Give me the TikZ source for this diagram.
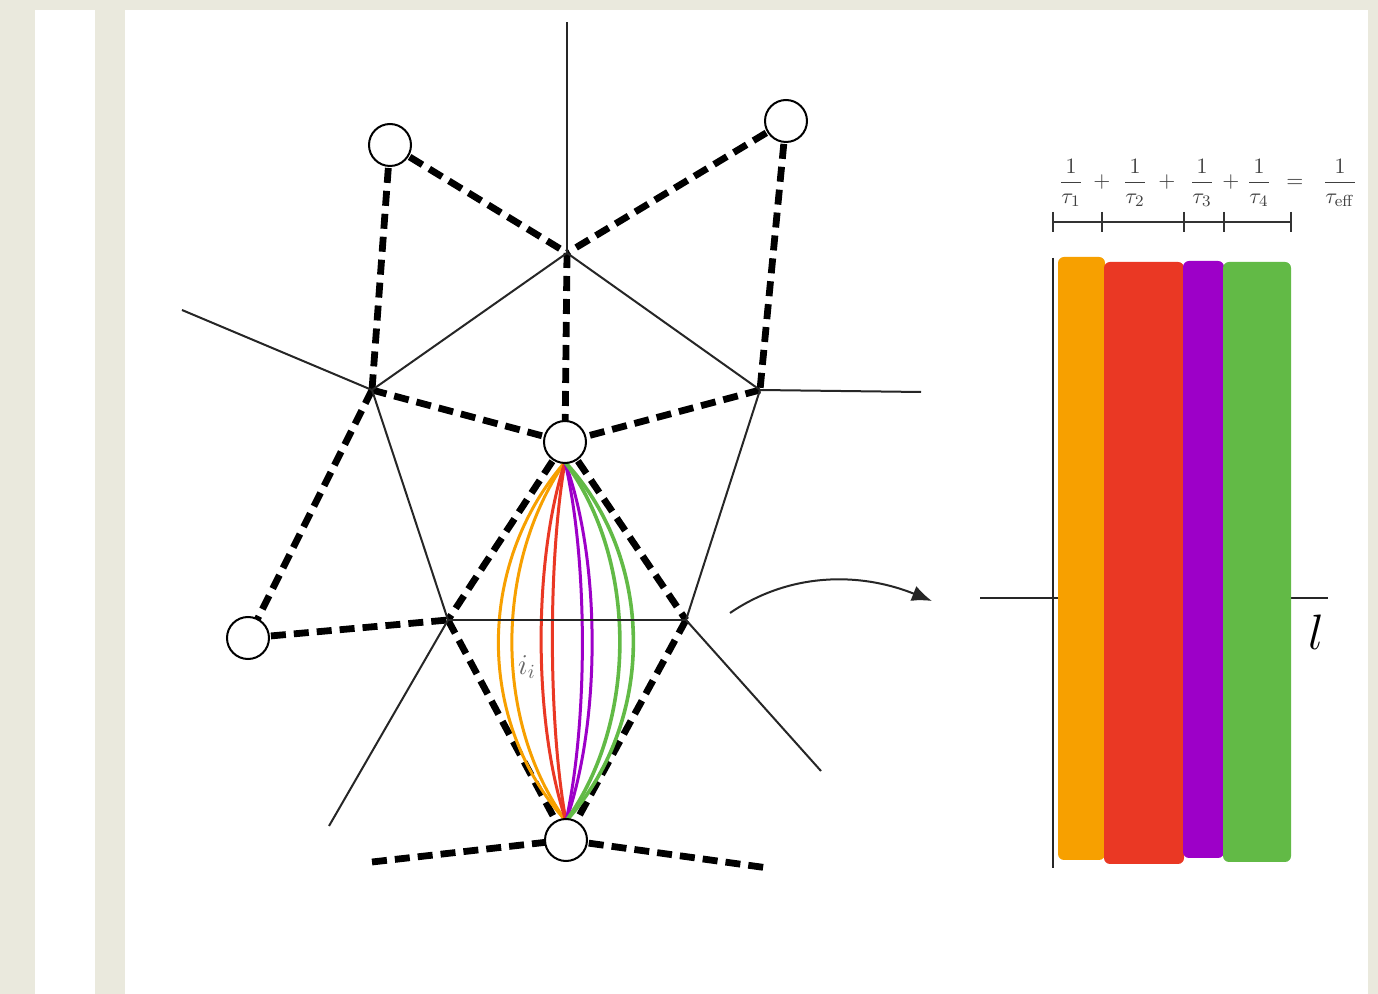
\documentclass[tikz,border=0pt]{standalone}
\usetikzlibrary{arrows.meta}
\definecolor{bg}{RGB}{234,233,221}
\definecolor{myorange}{RGB}{247,160,0}
\definecolor{myred}{RGB}{234,56,36}
\definecolor{mypurple}{RGB}{157,0,200}
\definecolor{mygreen}{RGB}{98,186,70}
\begin{document}
\begin{tikzpicture}[x=0.5pt,y=-0.5pt,
  site/.style={circle,draw,line width=1pt,fill=white,minimum size=21pt,inner sep=0pt},
  vor/.style={line width=1pt,black!85},
  del/.style={line width=3.4pt,dash pattern=on 7.5pt off 4pt},
  curve/.style={line width=1.5pt},
  tick/.style={line width=1pt,black!80},
  bar/.style={rounded corners=3pt},
  eq/.style={anchor=base,inner sep=0pt,text=black!75,font=\fontsize{11}{13}\selectfont}]
\useasboundingbox (0,0) rectangle (1378,994);
% background
\fill[bg] (0,0) rectangle (1378,994);
\fill[white] (35,10) rectangle (95,994);
\fill[white] (125,10) rectangle (1368,994);
% sites and vertices
\coordinate (c1) at (390,145);
\coordinate (c2) at (786,121);
\coordinate (c3) at (565,442);
\coordinate (c4) at (248,638);
\coordinate (c5) at (566,840);
\coordinate (A) at (567,253);
\coordinate (B) at (372,390);
\coordinate (D) at (760,390);
\coordinate (E) at (448,620);
\coordinate (F) at (686,620);
\coordinate (Atop) at (567,22);
\coordinate (Bout) at (182,310);
\coordinate (Dout) at (921,392);
\coordinate (Eout) at (329,826);
\coordinate (Fout) at (821,771);
\coordinate (L5) at (372,862);
\coordinate (R5) at (768,868);
% dashed (Delaunay) edges
\draw[del] (c1) -- (A);
\draw[del] (c2) -- (A);
\draw[del] (c1) -- (B);
\draw[del] (c2) -- (D);
\draw[del] (A) -- (c3);
\draw[del] (B) -- (c3);
\draw[del] (D) -- (c3);
\draw[del] (B) -- (c4);
\draw[del] (c4) -- (E);
\draw[del] (c3) -- (E);
\draw[del] (c3) -- (F);
\draw[del] (E) -- (c5);
\draw[del] (F) -- (c5);
\draw[del] (L5) -- (c5);
\draw[del] (c5) -- (R5);
% colored curves
\coordinate (t) at (565,462);
\coordinate (b) at (566,821);
\draw[curve,myorange] (t) .. controls (476,565) and (476,722) .. (b);
\draw[curve,myorange] (t) .. controls (494,565) and (494,722) .. (b);
\draw[curve,myred] (t) .. controls (533,560) and (533,722) .. (b);
\draw[curve,myred] (t) .. controls (548,560) and (548,722) .. (b);
\draw[curve,mypurple] (t) .. controls (588,560) and (588,722) .. (b);
\draw[curve,mypurple] (t) .. controls (601,560) and (601,722) .. (b);
\draw[curve,mygreen,line width=1.8pt] (t) .. controls (638,560) and (638,722) .. (b);
\draw[curve,mygreen,line width=1.8pt] (t) .. controls (656,560) and (656,722) .. (b);
% Voronoi edges
\draw[vor] (A) -- (Atop);
\draw[vor] (A) -- (B);
\draw[vor] (A) -- (D);
\draw[vor] (B) -- (Bout);
\draw[vor] (D) -- (Dout);
\draw[vor] (B) -- (E);
\draw[vor] (D) -- (F);
\draw[vor] (E) -- (F);
\draw[vor] (E) -- (Eout);
\draw[vor] (F) -- (Fout);
% sites on top
\node[site] (n1) at (c1) {};
\node[site] (n2) at (c2) {};
\node[site] (n3) at (c3) {};
\node[site] (n4) at (c4) {};
\node[site] (n5) at (c5) {};
% label
\node[text=black!60,font=\fontsize{14}{16}\selectfont] (lab) at (527,667) {$i_i$};
% arrow
\coordinate (as) at (730,613);
\coordinate (ae) at (932,601);
\draw[line width=1pt,black!85,-{Latex[length=10pt,width=8pt]}] (as) .. controls (790,572) and (860,572) .. (ae);
% right panel
\coordinate (hl) at (980,598);
\coordinate (hr) at (1328,598);
\draw[vor] (hl) -- (hr);
\fill[myorange,bar] (1058,257) rectangle (1105,860);
\fill[myred,bar] (1104,262) rectangle (1184,864);
\fill[mypurple,bar] (1183,261) rectangle (1224,858);
\fill[mygreen,bar] (1223,262) rectangle (1291,862);
\coordinate (vt) at (1053,258);
\coordinate (vb) at (1053,868);
\draw[vor] (vt) -- (vb);
\node[font=\fontsize{30}{36}\selectfont] (ell) at (1316,632) {$l$};
% scale bar
\coordinate (s0) at (1053,222);
\coordinate (s4) at (1291,222);
\draw[tick] (s0) -- (s4);
\foreach \xx in {1053,1102,1184,1224,1291}
  \draw[tick] (\xx,212) -- (\xx,232);
% formula
\node[eq] (f1) at (1071,188) {$\displaystyle\frac{1}{\tau_1}$};
\node[eq] (p1) at (1102,188) {$+$};
\node[eq] (f2) at (1135,188) {$\displaystyle\frac{1}{\tau_2}$};
\node[eq] (p2) at (1167,188) {$+$};
\node[eq] (f3) at (1202,188) {$\displaystyle\frac{1}{\tau_3}$};
\node[eq] (p3) at (1231,188) {$+$};
\node[eq] (f4) at (1259,188) {$\displaystyle\frac{1}{\tau_4}$};
\node[eq] (eqs) at (1295,188) {$=$};
\node[eq] (f5) at (1340,188) {$\displaystyle\frac{1}{\tau_{\mathrm{eff}}}$};
\end{tikzpicture}
\end{document}
